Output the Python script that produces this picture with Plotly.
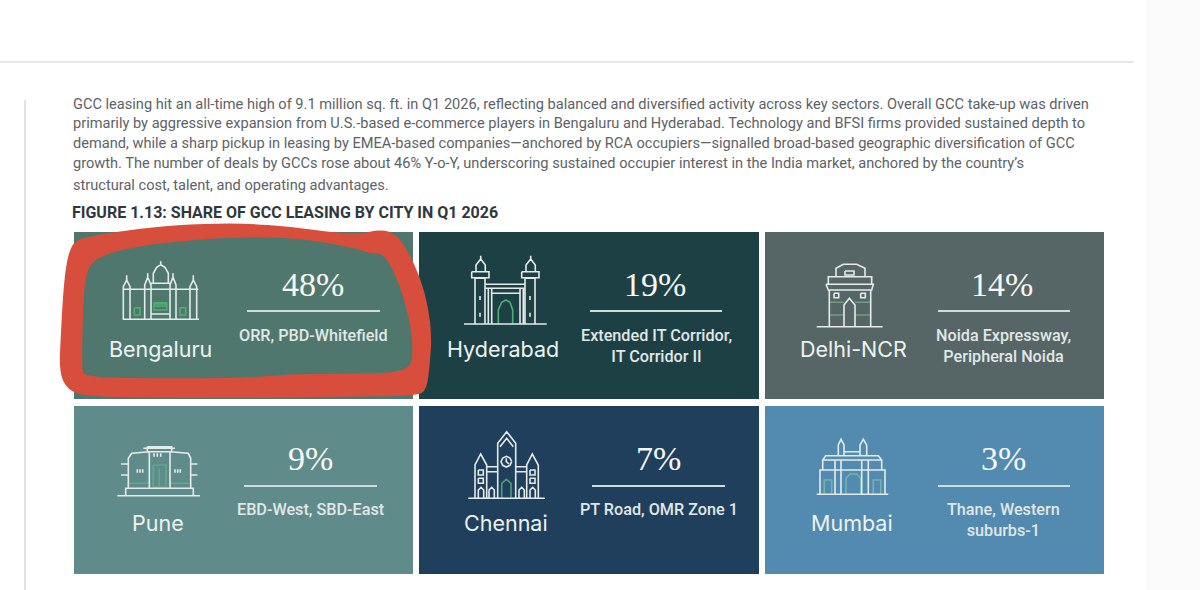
import plotly.graph_objects as go

cities = ['Bengaluru', 'Hyderabad', 'Delhi-NCR', 'Pune', 'Chennai', 'Mumbai']
shares = [48, 19, 14, 9, 7, 3]
micro_markets = [
    'ORR, PBD-Whitefield',
    'Extended IT Corridor,<br>IT Corridor II',
    'Noida Expressway,<br>Peripheral Noida',
    'EBD-West, SBD-East',
    'PT Road, OMR Zone 1',
    'Thane, Western<br>suburbs-1',
]
tile_colors = ['#50776d', '#1d4045', '#566565', '#608b8b', '#1f3f5c', '#528ab0']
body_lines = [
    'GCC leasing hit an all-time high of 9.1 million sq. ft. in Q1 2026, reflecting balanced and diversified activity across key sectors. Overall GCC take-up was driven',
    'primarily by aggressive expansion from U.S.-based e-commerce players in Bengaluru and Hyderabad. Technology and BFSI firms provided sustained depth to',
    'demand, while a sharp pickup in leasing by EMEA-based companies\u2014anchored by RCA occupiers\u2014signalled broad-based geographic diversification of GCC',
    'growth. The number of deals by GCCs rose about 46% Y-o-Y, underscoring sustained occupier interest in the India market, anchored by the country\u2019s',
    'structural cost, talent, and operating advantages.',
]
figure_title = 'FIGURE 1.13: SHARE OF GCC LEASING BY CITY IN Q1 2026'

TEXT_FONT = 'Roboto'
TILE_X = [(74, 413), (419, 759), (765, 1104)]
TILE_Y = [(232, 399), (406, 574)]
BODY_Y = [104, 123, 143, 163, 185]
RULE_X = [(247, 380), (590, 722), (938, 1070), (244, 377), (592, 725), (938, 1070)]
PCT_X = [313, 655, 1002, 310, 658, 1003]
SUB_X = [313, 656, 1003, 310, 659, 1003]
CITY_X = [160, 503, 853, 158, 506, 852]
ZOOM_ORIGIN = [(40, 220), (420, 225), (760, 225), (60, 400), (415, 400), (760, 400)]

# icon outlines, traced on 3x crops of the tile
ICON_LINES = [
    [[(248, 298), (477, 298)], [(250, 208), (475, 208)],
     [(250, 298), (250, 200), (260, 180), (270, 200), (270, 298)], [(260, 166), (260, 180)],
     [(314, 298), (314, 195), (323, 172), (333, 195), (333, 298)], [(323, 160), (323, 172)],
     [(390, 298), (390, 195), (399, 172), (408, 195), (408, 298)], [(399, 160), (399, 172)],
     [(450, 298), (450, 200), (460, 180), (470, 200), (470, 298)], [(460, 166), (460, 180)],
     [(340, 190), (340, 160), (350, 142), (362, 134), (375, 142), (385, 160), (385, 190)],
     [(362, 124), (362, 134)], [(333, 190), (390, 190)], [(333, 282), (390, 282)]],
    [[(132, 297), (380, 297)],
     [(165, 297), (165, 160), (195, 160), (195, 297)], [(155, 140), (207, 140), (207, 158), (155, 158), (155, 140)],
     [(168, 140), (168, 120), (182, 102), (196, 120), (196, 140)], [(182, 92), (182, 102)],
     [(315, 297), (315, 160), (345, 160), (345, 297)], [(305, 140), (357, 140), (357, 158), (305, 158), (305, 140)],
     [(318, 140), (318, 120), (332, 102), (346, 120), (346, 140)], [(332, 92), (332, 102)],
     [(195, 178), (315, 178)], [(195, 190), (315, 190)], [(215, 205), (300, 205)],
     [(215, 190), (215, 297)], [(300, 190), (300, 297)], [(205, 190), (205, 297)], [(310, 190), (310, 297)],
     [(180, 213), (180, 225)], [(180, 263), (180, 275)], [(330, 213), (330, 225)], [(330, 263), (330, 275)]],
    [[(170, 305), (368, 305)], [(208, 305), (208, 195), (332, 195), (332, 305)],
     [(198, 178), (340, 178), (335, 195), (205, 195), (198, 178)],
     [(205, 178), (205, 155), (335, 155), (335, 178)],
     [(228, 155), (228, 130), (250, 118), (290, 118), (315, 130), (315, 155)],
     [(255, 138), (282, 138), (282, 150), (255, 150), (255, 138)],
     [(252, 305), (252, 240), (268, 220), (285, 240), (285, 305)],
     [(222, 205), (236, 205), (236, 218), (222, 218), (222, 205)],
     [(302, 205), (316, 205), (316, 218), (302, 218), (302, 205)]],
    [[(172, 287), (420, 287)], [(197, 287), (197, 265), (400, 265), (400, 287)],
     [(268, 265), (268, 155), (330, 155), (330, 265)],
     [(250, 145), (345, 145)], [(262, 140), (335, 140), (335, 155), (262, 155), (262, 140)],
     [(205, 265), (205, 175), (215, 160), (268, 155)], [(330, 155), (385, 160), (392, 175), (392, 265)],
     [(183, 192), (205, 192)], [(183, 225), (205, 225)], [(392, 192), (412, 192)], [(392, 225), (412, 225)],
     [(232, 208), (232, 218)], [(240, 208), (240, 218)], [(248, 208), (248, 218)],
     [(345, 208), (345, 218)], [(353, 208), (353, 218)], [(361, 208), (361, 218)],
     [(282, 160), (282, 170)], [(292, 160), (292, 170)], [(302, 160), (302, 170)]],
    [[(160, 295), (390, 295)],
     [(248, 295), (248, 130), (275, 95), (302, 130), (302, 295)], [(255, 140), (275, 115), (295, 140)],
     [(290, 185), (285, 196), (274, 201), (263, 196), (258, 185), (263, 174), (274, 169), (285, 174), (290, 185)],
     [(274, 175), (274, 185), (282, 192)],
     [(180, 295), (180, 195), (197, 162), (215, 195), (215, 295)],
     [(335, 295), (335, 195), (352, 162), (370, 195), (370, 295)],
     [(215, 200), (248, 200)], [(215, 215), (248, 215)], [(302, 200), (335, 200)], [(302, 215), (335, 215)],
     [(190, 210), (205, 210), (205, 225), (190, 225), (190, 210)], [(190, 235), (205, 235), (205, 250), (190, 250), (190, 235)],
     [(345, 210), (360, 210), (360, 225), (345, 225), (345, 210)], [(345, 235), (360, 235), (360, 250), (345, 250), (345, 235)],
     [(190, 295), (190, 270), (198, 262), (206, 270), (206, 295)], [(222, 295), (222, 270), (230, 262), (238, 270), (238, 295)],
     [(312, 295), (312, 270), (320, 262), (328, 270), (328, 295)], [(345, 295), (345, 270), (353, 262), (361, 270), (361, 295)]],
    [[(170, 283), (385, 283)], [(180, 283), (180, 210), (375, 210), (375, 283)],
     [(188, 210), (188, 180), (197, 167), (355, 167), (365, 180), (365, 210)], [(188, 180), (365, 180)],
     [(235, 167), (235, 135), (243, 118), (252, 135), (252, 167)], [(300, 167), (300, 135), (310, 118), (320, 135), (320, 167)],
     [(252, 155), (300, 155)],
     [(225, 180), (225, 283)], [(243, 180), (243, 283)], [(305, 180), (305, 283)], [(325, 180), (325, 283)]],
]
ICON_ACCENT = [
    [[(283, 263), (300, 263), (300, 285), (283, 285), (283, 263)], [(420, 263), (437, 263), (437, 285), (420, 285), (420, 263)],
     [(342, 248), (380, 248), (380, 270), (342, 270), (342, 248)], [(342, 258), (380, 258)], [(342, 252), (380, 252)]],
    [[(235, 297), (235, 255), (245, 232), (258, 225), (270, 232), (278, 255), (278, 297)]],
    [[(208, 232), (252, 232)], [(285, 232), (332, 232)], [(208, 270), (252, 270)], [(285, 270), (332, 270)]],
    [[(280, 195), (318, 195), (318, 262), (280, 262), (280, 195)], [(298, 205), (298, 262)],
     [(205, 250), (268, 250)], [(330, 250), (392, 250)]],
    [[(260, 295), (260, 250), (274, 238), (288, 250), (288, 295)]],
    [[(258, 283), (258, 235), (270, 222), (290, 222), (302, 235), (302, 283)],
     [(193, 283), (193, 240), (215, 240), (215, 283)], [(340, 283), (340, 240), (362, 240), (362, 283)]],
]
ACCENT_COLORS = ['#4fae72', '#4fae72', '#6f9f80', '#5cab85', '#4f9f7a', '#6fb5ad']

# hand-drawn red ring, outer and inner edge, same 3x crop as the Bengaluru tile
RING_OUTER = [(105, 60), (170, 45), (300, 25), (450, 12), (620, 10), (750, 20), (900, 40), (970, 40), (1010, 30),
              (1060, 35), (1100, 85), (1140, 170), (1165, 260), (1175, 350), (1170, 430), (1160, 510), (1130, 528),
              (900, 530), (600, 535), (300, 532), (120, 528), (75, 500), (58, 450), (62, 350), (72, 180), (85, 100)]
RING_INNER = [(160, 115), (280, 80), (450, 60), (620, 50), (780, 55), (950, 85), (985, 100), (1030, 100), (1070, 170),
              (1105, 280), (1120, 380), (1112, 458), (900, 462), (750, 462), (600, 475), (300, 475), (130, 470),
              (126, 440), (128, 300), (135, 170)]


def polyline_path(lines, origin):
    ox, oy = origin
    parts = []
    for line in lines:
        pts = [f'{ox + x / 3:.1f},{oy + y / 3:.1f}' for x, y in line]
        parts.append('M' + ' L'.join(pts))
    return ' '.join(parts)


def smooth_loop(points, origin):
    # quadratic curves through midpoints, keeps the ring looking brushed
    ox, oy = origin
    pts = [(ox + x / 3, oy + y / 3) for x, y in points]
    mid = lambda a, b: ((a[0] + b[0]) / 2, (a[1] + b[1]) / 2)
    start = mid(pts[-1], pts[0])
    path = f'M{start[0]:.1f},{start[1]:.1f}'
    for i, p in enumerate(pts):
        m = mid(p, pts[(i + 1) % len(pts)])
        path += f' Q{p[0]:.1f},{p[1]:.1f} {m[0]:.1f},{m[1]:.1f}'
    return path + ' Z'


fig = go.Figure()

# page furniture
fig.add_shape(type='rect', x0=1146, x1=1200, y0=0, y1=590, fillcolor='#fbfbfb', line_width=0)
fig.add_shape(type='line', x0=0, x1=1134, y0=62, y1=62, line=dict(color='#dedede', width=1.5))
fig.add_shape(type='line', x0=25, x1=25, y0=100, y1=590, line=dict(color='#d9d9d4', width=1.5))

for y, line in zip(BODY_Y, body_lines):
    fig.add_annotation(x=71, y=y, text=line, xanchor='left', showarrow=False,
                       font=dict(family=TEXT_FONT, size=14.6, color='#5e6266'))
fig.add_annotation(x=70, y=212, text=f'<b>{figure_title}</b>', xanchor='left', showarrow=False,
                   font=dict(family=TEXT_FONT, size=16, color='#30383c'))

for i, city in enumerate(cities):
    row, col = divmod(i, 3)
    x0, x1 = TILE_X[col]
    y0, y1 = TILE_Y[row]
    fig.add_shape(type='rect', x0=x0, x1=x1, y0=y0, y1=y1, fillcolor=tile_colors[i], line_width=0)
    fig.add_shape(type='path', path=polyline_path(ICON_ACCENT[i], ZOOM_ORIGIN[i]),
                  line=dict(color=ACCENT_COLORS[i], width=1.6))
    fig.add_shape(type='path', path=polyline_path(ICON_LINES[i], ZOOM_ORIGIN[i]),
                  line=dict(color='#e4ebe9', width=1.6))
    rule_y = y0 + 79 if row == 0 else y0 + 80
    fig.add_shape(type='line', x0=RULE_X[i][0], x1=RULE_X[i][1], y0=rule_y, y1=rule_y,
                  line=dict(color='#cfdcd9', width=2))
    fig.add_annotation(x=PCT_X[i], y=y0 + 52, text=f'{shares[i]}%', showarrow=False,
                       font=dict(family='Liberation Serif', size=34, color='#f7f8f5'))
    n_lines = micro_markets[i].count('<br>') + 1
    fig.add_annotation(x=SUB_X[i], y=y0 + 103 + (n_lines - 1) * 11, text=micro_markets[i], showarrow=False,
                       font=dict(family=TEXT_FONT, size=16.2, weight=500, color='#e0e8e6'))
    fig.add_annotation(x=CITY_X[i], y=y0 + 117, text=city, showarrow=False,
                       font=dict(family='Inter', size=21.5, color='#eef3f1'))

fig.add_shape(type='path', path=smooth_loop(RING_OUTER, ZOOM_ORIGIN[0]) + ' ' + smooth_loop(RING_INNER, ZOOM_ORIGIN[0]),
              fillcolor='#d84e3c', line_width=0)

fig.update_xaxes(range=[0, 1200], visible=False, fixedrange=True)
fig.update_yaxes(range=[590, 0], visible=False, fixedrange=True)
fig.update_layout(width=1200, height=590, margin=dict(l=0, r=0, t=0, b=0),
                  paper_bgcolor='#ffffff', plot_bgcolor='#ffffff', showlegend=False)

fig.write_html('out.html', config={'displayModeBar': False}, post_script="document.body.style.margin='0';")
